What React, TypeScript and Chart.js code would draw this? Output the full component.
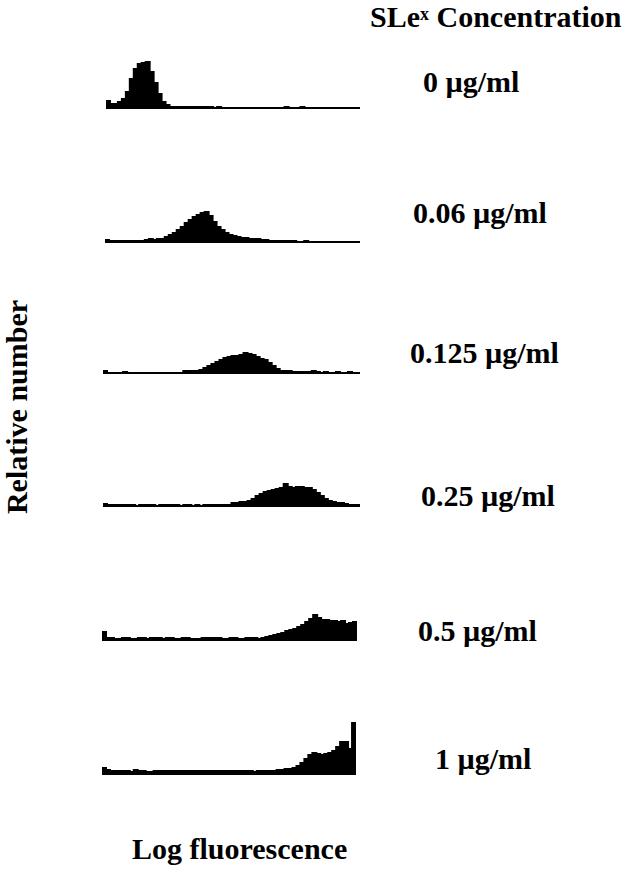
import React, { useEffect, useRef } from "react";
import { Chart, registerables } from "chart.js";

Chart.register(...registerables);

// Fluorescence channels (64 bins on a log scale)
const channels: string[] = Array.from({ length: 64 }, (_, i) => String(i + 1));

const concentrationLabels = ["0 µg/ml", "0.06 µg/ml", "0.125 µg/ml", "0.25 µg/ml", "0.5 µg/ml", "1 µg/ml"];

const counts0 = [
  8, 5, 5, 7, 10, 17, 30, 40, 45, 46, 47, 37, 26, 15, 7, 4,
  2, 2, 2, 2, 2, 2, 2, 2, 2, 2, 2, 1, 2, 1, 1, 1,
  1, 1, 1, 1, 1, 1, 1, 1, 1, 1, 1, 1, 1, 2, 1, 1,
  1, 2, 1, 1, 1, 1, 1, 1, 1, 1, 1, 1, 1, 1, 1, 1,
];
const counts006 = [
  3, 2, 2, 2, 2, 2, 2, 2, 2, 2, 3, 4, 3, 4, 4, 6,
  8, 10, 13, 16, 20, 23, 26, 28, 30, 31, 27, 21, 16, 13, 10, 8,
  7, 6, 5, 5, 4, 4, 4, 3, 3, 2, 2, 2, 2, 2, 2, 2,
  1, 1, 2, 1, 1, 1, 1, 1, 1, 1, 1, 1, 1, 1, 1, 1,
];
const counts0125 = [
  3, 1, 1, 1, 1, 2, 1, 1, 1, 1, 1, 1, 1, 1, 1, 1,
  1, 1, 1, 1, 3, 3, 3, 3, 4, 6, 8, 10, 12, 14, 16, 17,
  18, 18, 19, 21, 20, 19, 17, 15, 14, 11, 8, 5, 3, 3, 3, 2,
  2, 2, 2, 2, 3, 2, 1, 2, 1, 1, 2, 1, 1, 2, 1, 1,
];
const counts025 = [
  3, 2, 2, 2, 2, 2, 2, 2, 1, 2, 2, 2, 2, 1, 2, 2,
  2, 2, 2, 1, 2, 2, 1, 2, 1, 2, 2, 2, 2, 2, 2, 2,
  4, 4, 5, 5, 6, 8, 11, 13, 15, 16, 17, 18, 19, 23, 20, 19,
  20, 20, 19, 19, 17, 14, 11, 8, 6, 5, 4, 4, 3, 2, 2, 2,
];
const counts05 = [
  9, 3, 3, 2, 2, 3, 3, 2, 2, 3, 3, 2, 3, 3, 3, 2,
  3, 3, 2, 2, 3, 3, 2, 2, 2, 3, 3, 3, 3, 3, 2, 2,
  3, 3, 2, 2, 3, 3, 3, 2, 3, 4, 5, 6, 7, 8, 10, 11,
  12, 14, 16, 19, 22, 26, 23, 21, 21, 20, 20, 19, 20, 17, 18, 19,
];
const counts1 = [
  7, 5, 4, 4, 4, 4, 4, 3, 5, 4, 4, 3, 3, 4, 4, 4,
  4, 4, 4, 4, 4, 4, 4, 4, 4, 4, 4, 4, 4, 4, 4, 4,
  4, 4, 4, 4, 4, 4, 3, 4, 4, 4, 4, 4, 5, 5, 6, 6,
  7, 9, 12, 16, 20, 22, 21, 20, 21, 22, 24, 28, 33, 33, 26, 52,
];

const Y_MAX = 60;
const FONT = "'Liberation Serif', 'Times New Roman', serif";

type Panel = { data: number[]; left: number; right: number; baseline: number; label: string; labelLeft: number; labelBase: number };

const panels: Panel[] = [
  { data: counts0, left: 106, right: 360, baseline: 109, label: concentrationLabels[0], labelLeft: 423, labelBase: 92 },
  { data: counts006, left: 105, right: 360, baseline: 243, label: concentrationLabels[1], labelLeft: 413, labelBase: 223 },
  { data: counts0125, left: 103, right: 360, baseline: 374, label: concentrationLabels[2], labelLeft: 410, labelBase: 363 },
  { data: counts025, left: 103, right: 360, baseline: 507, label: concentrationLabels[3], labelLeft: 421, labelBase: 506 },
  { data: counts05, left: 102, right: 357, baseline: 641, label: concentrationLabels[4], labelLeft: 418, labelBase: 641 },
  { data: counts1, left: 102, right: 356, baseline: 775, label: concentrationLabels[5], labelLeft: 435, labelBase: 769 },
];

const FS = 30;
const BASE_OFF = (FS - FS * 1.107) / 2 + FS * 0.891;

function Histogram({ data, left, right, baseline }: { data: number[]; left: number; right: number; baseline: number }) {
  const ref = useRef<HTMLCanvasElement | null>(null);
  const w = right - left;
  const h = Y_MAX;
  useEffect(() => {
    if (!ref.current) return;
    const chart = new Chart(ref.current, {
      type: "bar",
      data: {
        labels: channels,
        datasets: [
          {
            data,
            backgroundColor: "#000",
            borderWidth: 0,
            barPercentage: 1,
            categoryPercentage: 1,
            inflateAmount: 1,
          },
        ],
      },
      options: {
        animation: false,
        responsive: false,
        maintainAspectRatio: false,
        devicePixelRatio: 1,
        layout: { padding: 0 },
        plugins: { legend: { display: false }, tooltip: { enabled: false } },
        scales: {
          x: { display: false },
          y: { display: false, min: 0, max: Y_MAX },
        },
      },
    });
    return () => chart.destroy();
  }, [data]);
  return (
    <canvas
      ref={ref}
      width={w}
      height={h}
      style={{ position: "absolute", left, top: baseline - h, width: w, height: h }}
    />
  );
}

const textStyle: React.CSSProperties = {
  position: "absolute",
  fontFamily: FONT,
  fontWeight: "bold",
  fontSize: FS,
  lineHeight: `${FS}px`,
  whiteSpace: "nowrap",
  color: "#000",
};

export default function App() {
  return (
    <div style={{ position: "absolute", left: 0, top: 0, width: 628, height: 871, background: "#fff", overflow: "hidden" }}>
      {panels.map((p, i) => (
        <React.Fragment key={i}>
          <Histogram data={p.data} left={p.left} right={p.right} baseline={p.baseline} />
          <div style={{ ...textStyle, left: p.labelLeft, top: p.labelBase - BASE_OFF }}>{p.label}</div>
        </React.Fragment>
      ))}
      <div style={{ ...textStyle, left: 370, top: 27 - BASE_OFF }}>
        SLe<span style={{ fontSize: 18, verticalAlign: "top", lineHeight: "18px", position: "relative", top: 3 }}>x</span> Concentration
      </div>
      <div style={{ ...textStyle, left: 132, top: 859 - BASE_OFF }}>Log fluorescence</div>
      <div
        style={{
          ...textStyle,
          left: 17,
          top: 407,
          transform: "translate(-50%, -50%) rotate(-90deg)",
        }}
      >
        Relative number
      </div>
    </div>
  );
}
